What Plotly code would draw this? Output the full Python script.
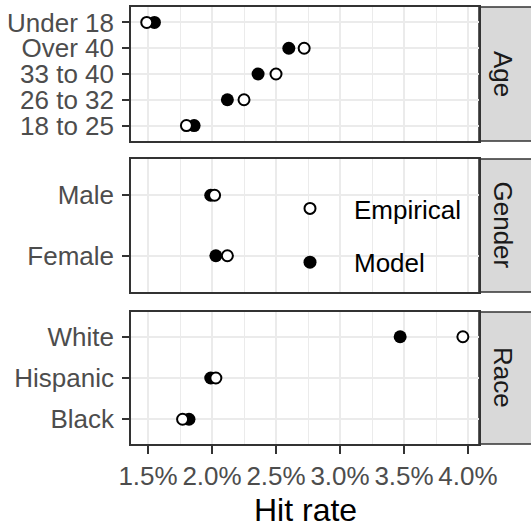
import plotly.graph_objects as go

# ---- data ----
age_cats = ["18 to 25", "26 to 32", "33 to 40", "Over 40", "Under 18"]
age_empirical = [1.80, 2.25, 2.50, 2.72, 1.49]
age_model = [1.86, 2.12, 2.36, 2.60, 1.55]

gender_cats = ["Female", "Male"]
gender_empirical = [2.12, 2.02]
gender_model = [2.03, 1.99]

race_cats = ["Black", "Hispanic", "White"]
race_empirical = [1.77, 2.03, 3.96]
race_model = [1.82, 1.99, 3.47]

facets = ["Age", "Gender", "Race"]
x_ticks = [1.5, 2.0, 2.5, 3.0, 3.5, 4.0]
x_tick_labels = ["1.5%", "2.0%", "2.5%", "3.0%", "3.5%", "4.0%"]
x_minor = [1.75, 2.25, 2.75, 3.25, 3.75]
x_title = "Hit rate"

groups = [
    (age_cats, age_empirical, age_model),
    (gender_cats, gender_empirical, gender_model),
    (race_cats, race_empirical, race_model),
]

# ---- layout geometry (pixels) ----
W, H = 531, 529
ML, MR, MT, MB = 131, 52, 7, 85
PW, PH = W - ML - MR, H - MT - MB
panel_px = [(7, 141), (159, 292), (312, 444)]  # top, bottom


def ydom(top, bot):
    return [(H - MB - bot) / PH, (H - MB - top) / PH]


FONT = "Liberation Sans, Arial, sans-serif"
FS = 26
GRID = "#EBEBEB"
BORDER = "#333333"

fig = go.Figure()

for i, (cats, emp, mod) in enumerate(groups):
    xa = "x" if i == 0 else f"x{i+1}"
    ya = "y" if i == 0 else f"y{i+1}"
    first = i == 1
    fig.add_trace(go.Scatter(
        x=mod, y=cats, mode="markers", name="Model",
        marker=dict(symbol="circle", size=13, color="black",
                    line=dict(width=0)),
        xaxis=xa, yaxis=ya, showlegend=first, legendgroup="model",
        legendrank=2, hoverinfo="skip"))
    fig.add_trace(go.Scatter(
        x=emp, y=cats, mode="markers", name="Empirical",
        marker=dict(symbol="circle", size=11, color="white",
                    line=dict(width=2, color="black")),
        xaxis=xa, yaxis=ya, showlegend=first, legendgroup="emp",
        legendrank=1, hoverinfo="skip"))

layout = dict(
    template="none",
    width=W, height=H,
    margin=dict(l=ML, r=MR, t=MT, b=MB, pad=0, autoexpand=False),
    paper_bgcolor="white", plot_bgcolor="white",
    font=dict(family=FONT, size=FS, color="#4D4D4D"),
    showlegend=True,
    legend=dict(
        x=(266 - ML) / PW, y=(H - MB - 185) / PH,
        xanchor="left", yanchor="top",
        bgcolor="rgba(0,0,0,0)", borderwidth=0,
        font=dict(family=FONT, size=FS, color="black"),
        itemwidth=78, tracegroupgap=17, itemclick=False,
    ),
)

for i, (cats, emp, mod) in enumerate(groups):
    xk = "xaxis" if i == 0 else f"xaxis{i+1}"
    yk = "yaxis" if i == 0 else f"yaxis{i+1}"
    anchor_y = "y" if i == 0 else f"y{i+1}"
    anchor_x = "x" if i == 0 else f"x{i+1}"
    top, bot = panel_px[i]
    last = i == 2
    layout[xk] = dict(
        domain=[0, 1], anchor=anchor_y, automargin=False,
        range=[1.367, 4.086],
        tickmode="array", tickvals=x_ticks, ticktext=x_tick_labels,
        showticklabels=last,
        ticks="outside" if last else "", ticklen=8, tickwidth=1.6,
        tickcolor=BORDER,
        showgrid=True, gridcolor=GRID, gridwidth=2,
        minor=dict(tickvals=x_minor, showgrid=True, gridcolor=GRID,
                   gridwidth=1, ticks=""),
        showline=True, linecolor=BORDER, linewidth=1.6, mirror=True,
        zeroline=False,
        tickfont=dict(family=FONT, size=FS, color="#4D4D4D"),
    )
    layout[yk] = dict(
        domain=ydom(top, bot), anchor=anchor_x, automargin=False,
        type="category", categoryorder="array", categoryarray=cats,
        tickmode="array", tickvals=cats, ticktext=cats,
        range=[-0.6, len(cats) - 0.4],
        ticks="outside", ticklen=7, tickwidth=1.6, tickcolor=BORDER,
        ticklabelstandoff=3,
        showgrid=True, gridcolor=GRID, gridwidth=2,
        showline=True, linecolor=BORDER, linewidth=1.6, mirror=True,
        zeroline=False,
        tickfont=dict(family=FONT, size=FS, color="#4D4D4D"),
    )

fig.update_layout(**layout)

# facet strips
shapes = []
annotations = []
for i, name in enumerate(facets):
    top, bot = panel_px[i]
    d = ydom(top, bot)
    shapes.append(dict(type="rect", xref="paper", yref="paper",
                       x0=1.0, x1=(545 - ML) / PW, y0=d[0], y1=d[1],
                       fillcolor="#D9D9D9", line=dict(color=BORDER, width=1.6),
                       layer="below"))
    annotations.append(dict(text=name, xref="paper", yref="paper",
                            x=(503 - ML) / PW, y=(d[0] + d[1]) / 2,
                            textangle=90, showarrow=False,
                            xanchor="center", yanchor="middle",
                            font=dict(family=FONT, size=FS, color="#1A1A1A")))
annotations.append(dict(text=x_title, xref="paper", yref="paper",
                        x=0.5, y=(H - MB - 510) / PH,
                        showarrow=False, xanchor="center", yanchor="middle",
                        font=dict(family=FONT, size=32, color="black")))
fig.update_layout(shapes=shapes, annotations=annotations)

fig.write_html(
    "out.html",
    config={"displayModeBar": False},
    post_script="document.body.style.margin='0px';document.body.style.overflow='hidden';",
)
